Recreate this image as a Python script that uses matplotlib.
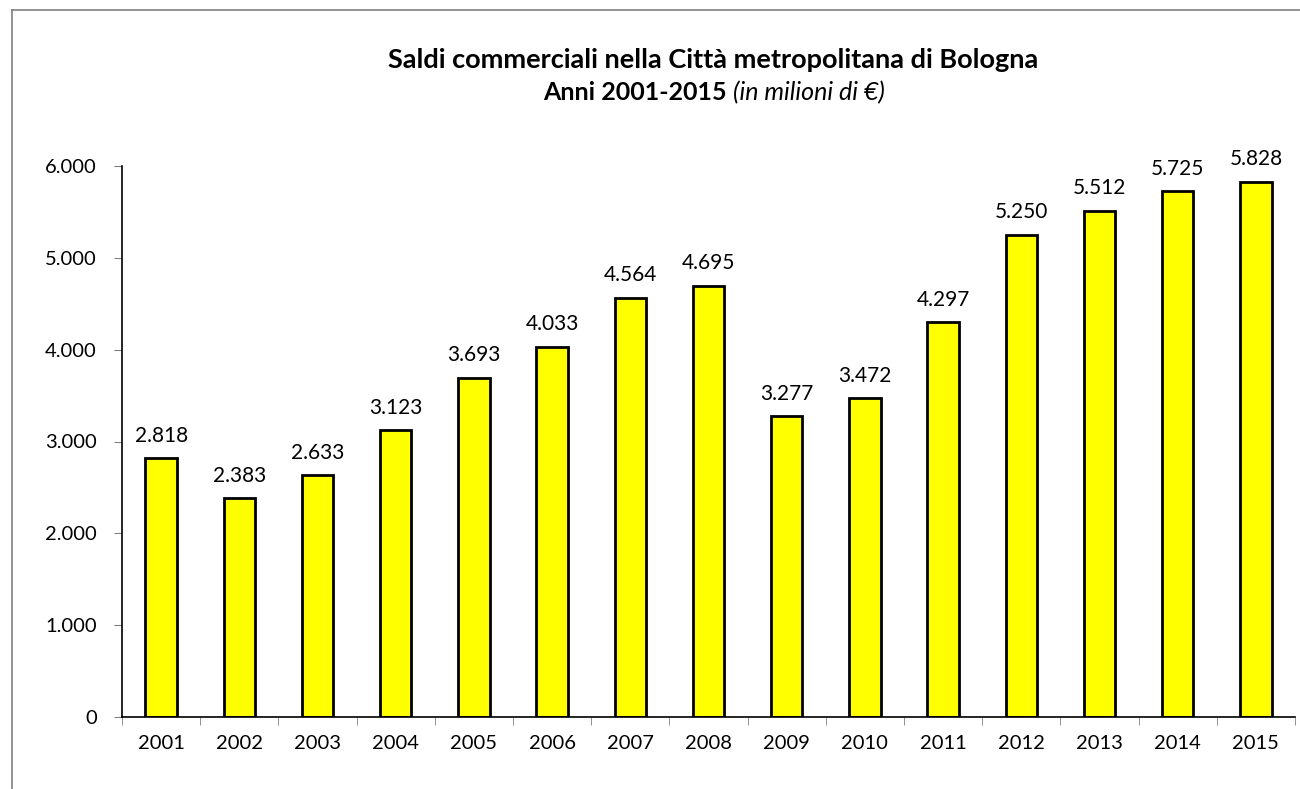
import matplotlib.pyplot as plt
from matplotlib.lines import Line2D
from matplotlib.ticker import FuncFormatter

# Data
years = ["2001", "2002", "2003", "2004", "2005", "2006", "2007", "2008",
         "2009", "2010", "2011", "2012", "2013", "2014", "2015"]
saldi = [2818, 2383, 2633, 3123, 3693, 4033, 4564, 4695,
         3277, 3472, 4297, 5250, 5512, 5725, 5828]
y_ticks = [0, 1000, 2000, 3000, 4000, 5000, 6000]

plt.rcParams['font.family'] = ['Lato', 'DejaVu Sans']


def it_fmt(v, pos=None):
    return f"{int(round(v)):,}".replace(",", ".")


fig = plt.figure(figsize=(13, 7.89), dpi=100)
ax = fig.add_axes([122 / 1300, 1 - 717 / 789, (1295 - 122) / 1300, (717 - 166) / 789])

x = list(range(len(years)))
ax.bar(x, saldi, width=0.4, color="#FFFF00", edgecolor="black", linewidth=2)

for xi, v in zip(x, saldi):
    ax.annotate(it_fmt(v), (xi, v), xytext=(0, 9), textcoords="offset points",
                ha="center", va="bottom", fontsize=15)

ax.set_xlim(-0.5, len(years) - 0.5)
ax.set_ylim(0, 6000)
ax.set_yticks(y_ticks)
ax.yaxis.set_major_formatter(FuncFormatter(it_fmt))
ax.set_xticks(x)
ax.set_xticklabels(years)
ax.set_xticks([i - 0.5 for i in range(len(years) + 1)], minor=True)
ax.tick_params(axis="x", which="major", length=0, pad=13, labelsize=14.5)
ax.tick_params(axis="x", which="minor", length=6, color="#808080")
ax.tick_params(axis="y", length=6, color="#808080", pad=12, labelsize=14.5)

for s in ("top", "right"):
    ax.spines[s].set_visible(False)
ax.spines["left"].set_linewidth(1.2)
ax.spines["bottom"].set_linewidth(1.2)

# Title
fig.text(713 / 1300, 1 - 60 / 789, "Saldi commerciali nella Città metropolitana di Bologna",
         ha="center", va="center", fontsize=19.5, fontweight="bold")
t_bold = fig.text(0, 1 - 93 / 789, "Anni 2001-2015 ", ha="left", va="center",
                  fontsize=18, fontweight="bold")
t_ital = fig.text(0, 1 - 93 / 789, "(in milioni di €)", ha="left", va="center",
                  fontsize=18, fontstyle="italic")
r = fig.canvas.get_renderer()
wb = t_bold.get_window_extent(r).width
wi = t_ital.get_window_extent(r).width
start = 714 - (wb + wi) / 2
t_bold.set_x(start / 1300)
t_ital.set_x((start + wb) / 1300)

# Outer border (left and top visible)
fig.add_artist(Line2D([12 / 1300, 12 / 1300], [0, 1 - 10 / 789], transform=fig.transFigure,
                      color="#808080", linewidth=1.2))
fig.add_artist(Line2D([12 / 1300, 1], [1 - 10 / 789, 1 - 10 / 789], transform=fig.transFigure,
                      color="#808080", linewidth=1.2))

fig.savefig("out.png", dpi=100)
